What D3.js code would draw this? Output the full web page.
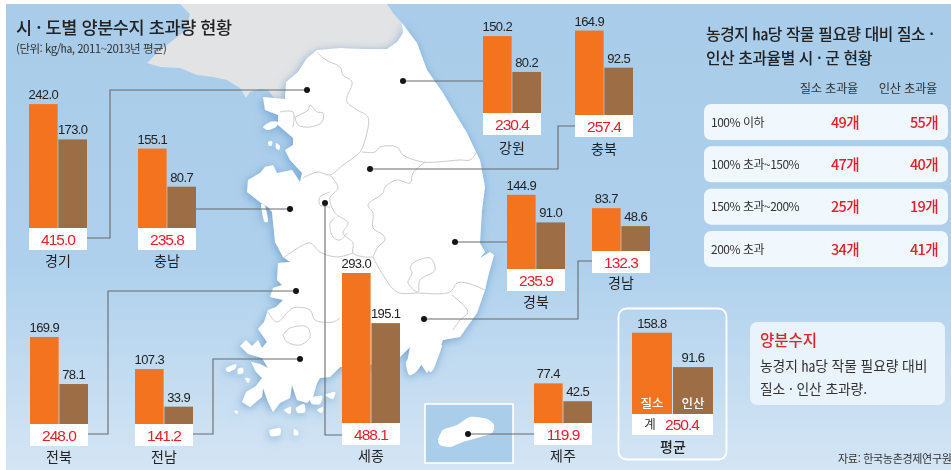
<!DOCTYPE html>
<html lang="ko"><head><meta charset="utf-8">
<script src="https://cdn.jsdelivr.net/npm/d3@7/dist/d3.min.js"></script>
<style>html,body{margin:0;padding:0;background:#fff}svg{display:block;filter:blur(.35px)}
text{font-family:"Noto Sans CJK KR","Noto Sans",sans-serif}
text.num{font-family:"Liberation Sans","Noto Sans CJK KR",sans-serif}</style></head>
<body><div id="chart"></div>
<script>
// ---- data ----
const regions   = ["경기","충남","강원","충북","경북","경남","전북","전남","세종","제주","평균"];
const nitrogen  = [242.0,155.1,150.2,164.9,144.9,83.7,169.9,107.3,293.0,77.4,158.8];
const phosphate = [173.0,80.7,80.2,92.5,91.0,48.6,78.1,33.9,195.1,42.5,91.6];
const totals    = [415.0,235.8,230.4,257.4,235.9,132.3,248.0,141.2,488.1,119.9,250.4];
const nutrients = ["질소","인산"];
const rateBands = ["100% 이하","100% 초과~150%","150% 초과~200%","200% 초과"];
const nRates    = ["49개","47개","25개","34개"];
const pRates    = ["55개","40개","19개","41개"];

// ---- layout (not data) ----
const W=951,H=470;
const slots = {경기:[29,228],충남:[138,228],강원:[483,113],충북:[575,115],경북:[507,269],경남:[592,251],
  전북:[30,424],전남:[135,424],세종:[342,423],제주:[534,423],평균:[632,414]};
const nameY = {경기:261,충남:261,강원:148,충북:149,경북:302,경남:283,전북:457,전남:457,세종:456,제주:456};
const leaders = [
 [[87,238],[110,238],[110,90],[307,90]],
 [[196,209],[290,209]],
 [[403,81],[483,81]],
 [[370,169],[558,169],[558,126],[575,126]],
 [[455,242],[507,242]],
 [[424,319],[578,319],[578,261],[592,261]],
 [[88,434],[108,434],[108,291],[296,291]],
 [[193,434],[213,434],[213,359],[300,359]],
 [[325,203],[325,435],[342,435]],
 [[468,434],[534,434]]];
const dots=[[307,90],[290,209],[403,81],[370,169],[455,242],[424,319],[296,291],[300,359],[325,203],[468,434]];

// ---- base-map outlines ----
const northLand=[[180,4],[190,14],[186,30],[157,53],[147,63],[160,67],[180,68],[197,75],[213,77],[227,80],[240,88],[246,98],[250,92],[260,89],[268,90],[274,98],[285,99],[286,82],[298,72],[307,58],[317,50],[340,48],[363,49],[387,49],[397,42],[403,33],[402,23],[393,13],[387,4]];
const southLand=[[402,23],[417,43],[427,70],[443,93],[453,110],[467,133],[475,150],[480,160],[485,187],[482,210],[480,243],[485,252],[480,258],[490,252],[494,255],[488,277],[485,290],[477,313],[467,327],[460,337],[443,340],[440,347],[432,347],[435,360],[427,373],[420,363],[407,363],[410,347],[400,357],[370,365],[340,367],[330,377],[320,378],[317,383],[313,397],[307,403],[297,400],[292,385],[290,398],[280,403],[273,412],[268,402],[263,388],[262,397],[250,407],[242,402],[246,392],[256,386],[262,378],[256,372],[251,362],[260,364],[268,368],[262,358],[248,354],[240,346],[246,340],[252,346],[258,340],[262,348],[267,342],[258,329],[264,322],[268,310],[276,307],[283,300],[270,297],[273,288],[282,285],[277,280],[278,263],[290,262],[283,257],[275,242],[273,222],[272,212],[268,207],[261,203],[247,192],[248,180],[260,173],[265,167],[273,165],[277,173],[292,170],[300,182],[302,173],[290,160],[285,150],[293,145],[293,138],[278,125],[278,115],[265,110],[263,97],[274,98],[285,99],[286,82],[298,72],[307,58],[317,50],[340,48],[363,49],[387,49],[397,42],[403,33]];
const islands=[
 [[263,127],[270,122],[278,122],[276,127],[268,130]],
 [[268,142],[272,141],[272,145],[269,146]],[[276,143],[280,146],[279,150],[276,148]],
 [[261,205],[265,206],[268,221],[264,221]],
 [[432,347],[442,345],[437,360],[434,368],[430,372],[424,358]],
 [[406,362],[414,355],[422,362],[416,372],[409,375]],
 [[226,368],[236,364],[235,369],[228,372]],[[238,369],[243,368],[243,373],[238,374]],[[245,378],[250,379],[248,383]],
 [[234,411],[238,411],[237,414]],
 [[270,430],[280,428],[280,435],[271,436]],[[294,429],[298,431],[298,435],[294,435]],
 [[310,398],[322,396],[320,404],[312,404]],[[325,395],[335,392],[333,399]],
 [[296,408],[304,404],[305,412],[298,413]],[[284,410],[291,407],[290,414]],[[317,410],[323,407],[322,413]]];
const jeju=[[438,440],[443,430],[457,425],[470,417],[487,419],[494,425],[492,433],[477,438],[463,442],[450,447],[440,445]];
const borders=[
 [[317,52],[323,58],[330,62],[340,67],[343,75],[352,82],[347,97],[347,102],[357,110],[368,117],[365,140],[360,152],[353,158],[343,165],[330,175],[318,172],[303,178]],
 [[362,152],[375,152],[380,147],[397,147],[403,155],[423,162],[437,162],[460,160],[470,160],[476,153]],
 [[425,162],[413,173],[410,183],[397,180],[385,187],[383,193],[368,205],[373,213],[373,228],[383,235],[385,240],[378,247],[373,257]],
 [[330,175],[338,188],[330,198],[335,213],[348,223],[343,233],[353,243],[353,253],[365,257],[373,257]],
 [[330,192],[320,197],[320,205],[330,207]],
 [[335,218],[330,223],[333,237],[340,240],[347,233]],
 [[283,258],[298,248],[310,243],[320,252],[337,257],[353,253]],
 [[373,257],[380,270],[397,292],[417,293],[450,292],[457,283],[467,283],[485,290]],
 [[452,295],[468,312],[460,320],[453,330]],
 [[410,268],[413,263],[430,258],[435,270],[420,280],[418,292],[408,283],[412,273],[410,268]],
 [[268,312],[277,322],[293,308],[310,310],[315,320],[333,322],[340,318]],
 [[283,335],[290,328],[307,327],[310,337],[300,345],[287,342],[283,335]],
 [[295,117],[308,110],[310,105],[317,112],[323,113],[322,122],[310,127],[298,125],[295,117]],
 [[280,112],[293,112],[293,127]]];

// ---- drawing ----
const svg=d3.select("#chart").append("svg").attr("width",W).attr("height",H);
const defs=svg.append("defs");
const grad=defs.append("linearGradient").attr("id","sea").attr("x1",0).attr("x2",0).attr("y1",0).attr("y2",1);
grad.append("stop").attr("offset","0%").attr("stop-color","#a8cce9");
grad.append("stop").attr("offset","55%").attr("stop-color","#aed0ec");
grad.append("stop").attr("offset","100%").attr("stop-color","#d4e5f4");
const sh=defs.append("filter").attr("id","coast").attr("x","-20%").attr("y","-20%").attr("width","140%").attr("height","140%");
sh.append("feDropShadow").attr("dx",-1).attr("dy",2).attr("stdDeviation",5).attr("flood-color","#5f95c6").attr("flood-opacity",.75);

svg.append("rect").attr("x",6).attr("y",4).attr("width",W-6).attr("height",H-4).attr("fill","url(#sea)");

const lin=d3.line(), soft=d3.line().curve(d3.curveCatmullRom.alpha(.5));
const closed=d3.line().curve(d3.curveCardinalClosed.tension(.3));
const mapG=svg.append("g");
mapG.append("path").attr("d",lin(northLand)+"Z").attr("fill","#e2e3e5");
const landG=mapG.append("g").attr("filter","url(#coast)");
landG.append("path").attr("d",lin(southLand)+"Z").attr("fill","#fff");
landG.selectAll("path.isl").data(islands).join("path").attr("class","isl").attr("d",d=>closed(d)).attr("fill","#fff");
mapG.selectAll("path.b").data(borders).join("path").attr("class","b").attr("d",d=>soft(d))
  .attr("fill","none").attr("stroke","#c9cbcd").attr("stroke-width",1);

const drawLeaders=g=>{
 g.selectAll("path").data(leaders).join("path").attr("d",d=>lin(d)).attr("fill","none").attr("stroke","#666a6d").attr("stroke-width",1.1);
 g.selectAll("circle").data(dots).join("circle").attr("cx",d=>d[0]).attr("cy",d=>d[1]).attr("r",3).attr("fill","#151515");
};
const jejuInset=svg.append("g");
jejuInset.append("rect").attr("x",425).attr("y",404).attr("width",88).attr("height",59).attr("fill","#aacdea").attr("stroke","#fff").attr("stroke-width",1.6);
jejuInset.append("path").attr("d",closed(jeju)).attr("fill","#fff");
svg.append("g").call(drawLeaders);

svg.append("rect").attr("x",618.5).attr("y",308.5).attr("width",108).attr("height",151).attr("rx",8)
  .attr("fill","none").attr("stroke","#fff").attr("stroke-width",1.8);

// bars
const yScale=d3.scaleLinear().domain([0,293]).range([0,150]);
const color=d3.scaleOrdinal().domain(nutrients).range(["#f4731e","#9d6e46"]);
regions.forEach((r,i)=>{
 const [x0,base]=slots[r], isAvg=r==="평균", bw=isAvg?81:58;
 const xs=d3.scaleBand().domain(nutrients).range([x0,x0+bw]).paddingInner(.025);
 const g=svg.append("g");
 const vals=[{k:"질소",v:nitrogen[i]},{k:"인산",v:phosphate[i]}];
 g.append("rect").attr("x",x0).attr("y",base).attr("width",bw).attr("height",isAvg?21:22).attr("fill","#fff");
 g.selectAll("rect.bar").data(vals).join("rect").attr("class","bar")
   .attr("x",d=>xs(d.k)).attr("width",xs.bandwidth()).attr("y",d=>base-yScale(d.v)).attr("height",d=>yScale(d.v)).attr("fill",d=>color(d.k));
 g.selectAll("text.val").data(vals).join("text").attr("class","val num")
   .attr("x",d=>xs(d.k)+xs.bandwidth()/2).attr("y",d=>base-yScale(d.v)-5).attr("text-anchor","middle")
   .attr("font-size",13).attr("letter-spacing",-.6).attr("fill","#222").text(d=>d.v.toFixed(1));
 if(isAvg){
  g.selectAll("text.nn").data(vals).join("text").attr("class","nn").attr("x",d=>xs(d.k)+xs.bandwidth()/2).attr("y",base-6)
   .attr("text-anchor","middle").attr("font-size",12.5).attr("font-weight",500).attr("fill","#fff").text(d=>d.k);
  g.append("text").attr("x",x0+18).attr("y",base+15).attr("text-anchor","middle").attr("font-size",12.5).attr("fill","#333").text("계");
  g.append("text").attr("class","num").attr("x",x0+50).attr("y",base+16).attr("text-anchor","middle").attr("font-size",15.5).attr("letter-spacing",-1).attr("fill","#e0202c").text(totals[i].toFixed(1));
  g.append("text").attr("x",x0+41).attr("y",452).attr("text-anchor","middle").attr("font-size",14).attr("font-weight",500).attr("fill","#222").text(r);
 } else {
  g.append("text").attr("class","num").attr("x",x0+bw/2).attr("y",base+16.5).attr("text-anchor","middle").attr("font-size",15.5).attr("letter-spacing",-1).attr("fill","#e0202c").text(totals[i].toFixed(1));
  g.append("text").attr("x",x0+bw/2).attr("y",nameY[r]+5).attr("text-anchor","middle").attr("font-size",14).attr("fill","#222").text(r);
 }
});

// titles
svg.append("text").attr("x",16).attr("y",34).attr("font-size",17.5).attr("font-weight",500).attr("letter-spacing",-.4).attr("fill","#222").text("시 · 도별 양분수지 초과량 현황");
svg.append("text").attr("x",16).attr("y",53).attr("font-size",11.5).attr("letter-spacing",-.5).attr("fill","#333").text("(단위: kg/㏊, 2011~2013년 평균)");

// right panel
svg.append("text").attr("x",706).attr("y",40).attr("font-size",15.8).attr("font-weight",500).attr("letter-spacing",-.4).attr("fill","#222").text("농경지 ㏊당 작물 필요량 대비 질소 ·");
svg.append("text").attr("x",706).attr("y",64).attr("font-size",15.8).attr("font-weight",500).attr("letter-spacing",-.4).attr("fill","#222").text("인산 초과율별 시 · 군 현황");
[["질소 초과율",858],["인산 초과율",937]].forEach(([t,x])=>svg.append("text").attr("x",x).attr("y",93).attr("text-anchor","end").attr("font-size",12.3).attr("letter-spacing",-.3).attr("fill","#333").text(t));
const rowY=d3.scalePoint().domain(rateBands).range([122,249]);
const rows=svg.append("g").selectAll("g").data(rateBands).join("g").attr("transform",d=>`translate(0,${rowY(d)})`);
rows.append("rect").attr("x",704).attr("y",-18).attr("width",244).attr("height",36).attr("rx",7).attr("fill","#f0f7fd");
rows.append("text").attr("x",711).attr("y",4.5).attr("font-size",12).attr("letter-spacing",-.5).attr("fill","#333").text(d=>d);
rows.append("text").attr("x",859).attr("y",5.5).attr("text-anchor","end").attr("font-size",14.5).attr("font-weight",500).attr("letter-spacing",-.6).attr("fill","#e0202c").text((d,i)=>nRates[i]);
rows.append("text").attr("x",938).attr("y",5.5).attr("text-anchor","end").attr("font-size",14.5).attr("font-weight",500).attr("letter-spacing",-.6).attr("fill","#e0202c").text((d,i)=>pRates[i]);

// note box
svg.append("rect").attr("x",750).attr("y",322).attr("width",195).attr("height",83).attr("rx",7).attr("fill","#e9f3fb");
svg.append("text").attr("x",760).attr("y",346).attr("font-size",15.5).attr("font-weight",500).attr("fill","#e0202c").text("양분수지");
svg.append("text").attr("x",760).attr("y",371).attr("font-size",13.8).attr("letter-spacing",-.1).attr("fill","#333").text("농경지 ㏊당 작물 필요량 대비");
svg.append("text").attr("x",760).attr("y",394).attr("font-size",13.8).attr("letter-spacing",-.1).attr("fill","#333").text("질소 · 인산 초과량.");
svg.append("text").attr("x",838).attr("y",463).attr("font-size",11).attr("letter-spacing",-.3).attr("fill","#333").text("자료: 한국농촌경제연구원");
</script></body></html>
